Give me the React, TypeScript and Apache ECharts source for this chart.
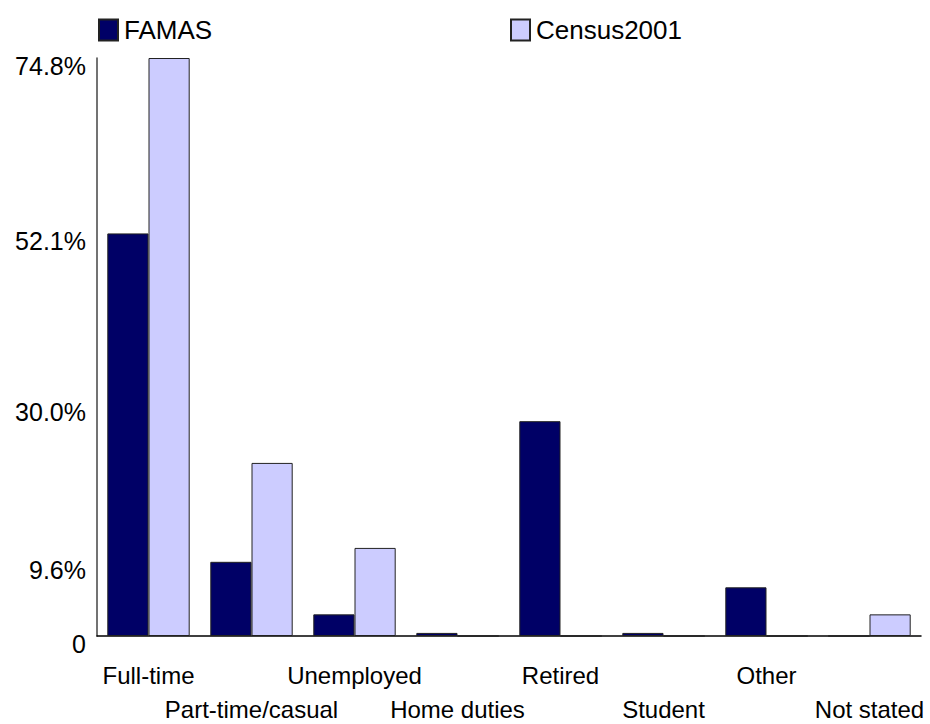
import React, { useEffect, useRef } from "react";
import * as echarts from "echarts";

const categories = [
  "Full-time",
  "Part-time/casual",
  "Unemployed",
  "Home duties",
  "Retired",
  "Student",
  "Other",
  "Not stated",
];
const famas = [52.1, 9.6, 2.8, 0.4, 27.8, 0.4, 6.3, 0];
const census2001 = [74.8, 22.4, 11.4, 0, 0, 0, 0, 2.8];
const yTickValues = [0, 9.6, 30.0, 52.1, 74.8];

const FONT = "'Liberation Sans', Arial, Helvetica, sans-serif";

export default function App() {
  const ref = useRef<HTMLDivElement>(null);

  useEffect(() => {
    if (!ref.current) return;
    const chart = echarts.init(ref.current, null, { renderer: "svg" });
    const legendBase = {
      icon: "rect",
      itemWidth: 19,
      itemHeight: 21,
      itemGap: 6,
      textStyle: { fontFamily: FONT, fontSize: 26, color: "#000", padding: [0, 0, 0, 1] },
    };
    const labelBase = {
      fontFamily: FONT,
      fontSize: 24,
      lineHeight: 26,
      color: "#000",
      hideOverlap: false,
    };
    chart.setOption({
      animation: false,
      backgroundColor: "#ffffff",
      textStyle: { fontFamily: FONT, color: "#000" },
      legend: [
        { ...legendBase, data: ["FAMAS"], left: 93, top: 12 },
        { ...legendBase, data: ["Census2001"], left: 505, top: 12 },
      ],
      grid: {
        left: 97,
        right: 9,
        top: 58,
        bottom: 88,
        containLabel: false,
        outerBoundsMode: "none",
      },
      // two category axes on the same grid: upper row of labels and a staggered lower row
      xAxis: [
        {
          type: "category",
          data: categories,
          axisLine: { show: true, lineStyle: { color: "#000", width: 1.5 } },
          axisTick: { show: false },
          axisLabel: {
            ...labelBase,
            margin: 26,
            interval: (index: number) => index % 2 === 0,
          },
        },
        {
          type: "category",
          position: "bottom",
          data: categories,
          axisLine: { show: false },
          axisTick: { show: false },
          axisLabel: {
            ...labelBase,
            margin: 60,
            interval: (index: number) => index % 2 === 1,
          },
        },
      ],
      yAxis: {
        type: "value",
        min: 0,
        max: 74.8,
        splitLine: { show: false },
        axisTick: { show: false },
        axisLine: { show: true, lineStyle: { color: "#444", width: 1.5 } },
        axisLabel: {
          customValues: yTickValues,
          margin: 11,
          fontFamily: FONT,
          fontSize: 25,
          lineHeight: 16,
          color: "#000",
          verticalAlign: "top",
          formatter: (v: number) => (v === 0 ? "0" : v.toFixed(1) + "%"),
        },
      },
      series: [
        {
          name: "FAMAS",
          type: "bar",
          xAxisIndex: 0,
          data: famas,
          barGap: "0%",
          barCategoryGap: "20%",
          itemStyle: { color: "#000066", borderColor: "#222", borderWidth: 1 },
        },
        {
          name: "Census2001",
          type: "bar",
          xAxisIndex: 0,
          data: census2001,
          barGap: "0%",
          barCategoryGap: "20%",
          itemStyle: { color: "#CCCCFF", borderColor: "#222", borderWidth: 1 },
        },
      ],
    });
    return () => chart.dispose();
  }, []);

  return (
    <div
      ref={ref}
      style={{ position: "fixed", left: 0, top: 0, width: 930, height: 724 }}
    />
  );
}
